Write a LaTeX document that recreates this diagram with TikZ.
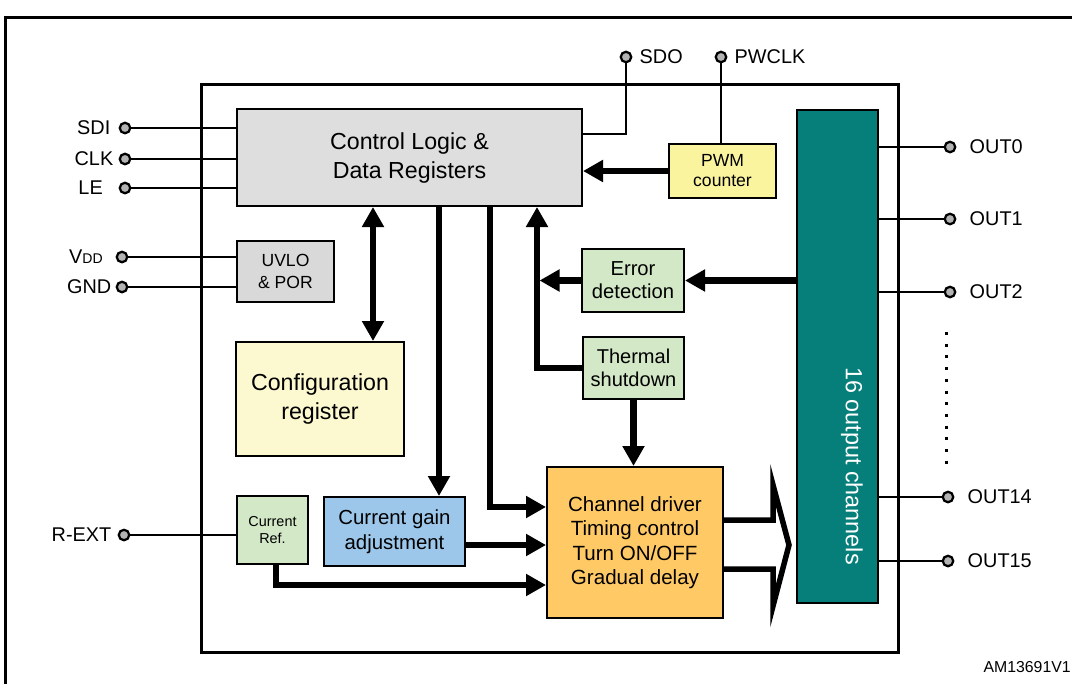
\documentclass[tikz,border=0pt]{standalone}
\usepackage{fontspec}
\setmainfont{Liberation Sans}
\usepackage{xcolor}
\usetikzlibrary{arrows.meta,positioning,calc}
\definecolor{logicgray}{HTML}{DEDEDE}
\definecolor{porgray}{HTML}{D9D9D9}
\definecolor{cfgyellow}{HTML}{FCF8D0}
\definecolor{pwmyellow}{HTML}{FBF49F}
\definecolor{ltgreen}{HTML}{D2E8C6}
\definecolor{gainblue}{HTML}{9DC7EA}
\definecolor{drvorange}{HTML}{FFC966}
\definecolor{chanteal}{HTML}{067F7B}
\definecolor{padgray}{HTML}{B3B3B3}
\tikzset{
  blk/.style={draw, line width=0.4mm, align=center, inner sep=0pt},
  pad/.style={circle, draw, line width=0.45mm, fill=padgray, inner sep=0pt, minimum size=2.1mm},
  padlbl/.style={inner sep=0pt, font=\fontsize{11.3}{13}\selectfont},
  wire/.style={line width=0.4mm},
  fat/.style={line width=1.3mm, -{Triangle[length=4mm,width=4.2mm]}},
  fatboth/.style={line width=1.3mm, {Triangle[length=4mm,width=4.2mm]}-{Triangle[length=4mm,width=4.2mm]}},
  busout/.style={line width=1.1mm, fill=white, line join=miter}
}

\begin{document}
\begin{tikzpicture}[x=0.2mm, y=-0.2mm]
    \useasboundingbox (0,0) rectangle (1072,683);
    % Frame and chip outline
    \draw[line width=0.6mm] (5,700) -- (5,17) -- (1090,17);
    \draw[line width=0.6mm] (201,84) rectangle (898,652);
    % Blocks
    \node[blk, fill=logicgray, minimum width=69mm, minimum height=19.4mm, font=\fontsize{13.2}{16.5}\selectfont] (logic) at (409.5,157.5) {Control Logic \&\\Data Registers};
    \node[blk, fill=porgray, minimum width=19.4mm, minimum height=12.2mm, font=\fontsize{10}{12.5}\selectfont] (uvlo) at (285.5,271.5) {UVLO\\\& POR};
    \node[blk, fill=cfgyellow, minimum width=33.6mm, minimum height=22.8mm, font=\fontsize{13.2}{16.5}\selectfont] (cfg) at (320,399) {Configuration\\register};
    \node[blk, fill=ltgreen, minimum width=14.2mm, minimum height=13.6mm, font=\fontsize{8.2}{10}\selectfont] (curref) at (272.5,530) {Current\\Ref.};
    \node[blk, fill=gainblue, minimum width=28.2mm, minimum height=13.8mm, font=\fontsize{11.6}{14.2}\selectfont] (gain) at (394.5,531.5) {Current gain\\adjustment};
    \node[blk, fill=drvorange, minimum width=35.2mm, minimum height=30.2mm, font=\fontsize{11.7}{13.9}\selectfont] (driver) at (635,542.5) {Channel driver\\Timing control\\Turn ON/OFF\\Gradual delay};
    \node[blk, fill=pwmyellow, minimum width=21.4mm, minimum height=10.8mm, font=\fontsize{10}{11.4}\selectfont] (pwm) at (722.5,171) {PWM\\counter};
    \node[blk, fill=ltgreen, minimum width=20.4mm, minimum height=12.6mm, font=\fontsize{11.5}{13}\selectfont] (error) at (633,280.5) {Error\\detection};
    \node[blk, fill=ltgreen, minimum width=20.2mm, minimum height=12.4mm, font=\fontsize{11.4}{13}\selectfont] (thermal) at (633.5,368) {Thermal\\shutdown};
    \node[blk, fill=chanteal, minimum width=16.2mm, minimum height=98.6mm] (chans) at (837.5,356.5) {};
    \node[rotate=-90, text=white, inner sep=0pt, font=\fontsize{13.3}{15}\selectfont] (chanlbl) at (852,466) {16 output channels};
    % Pins, left side
    \node[pad] (sdi) at (125,128) {};
    \node[pad] (clk) at (125,159) {};
    \node[pad] (le) at (125,188) {};
    \node[pad] (vdd) at (122,257) {};
    \node[pad] (gnd) at (122,287) {};
    \node[pad] (rext) at (124,535) {};
    \node[padlbl, left=1.6mm of sdi] (sdilbl) {SDI};
    \node[padlbl, left=1mm of clk] (clklbl) {CLK};
    \node[padlbl, left=3.1mm of le] (lelbl) {LE};
    \node[padlbl, left=2.5mm of vdd] (vddlbl) {V{\fontsize{8}{8}\selectfont DD}};
    \node[padlbl, left=0.8mm of gnd] (gndlbl) {GND};
    \node[padlbl, left=1.2mm of rext] (rextlbl) {R-EXT};
    % Pins, top
    \node[pad] (sdo) at (626,57) {};
    \node[pad] (pwclk) at (721,57) {};
    \node[padlbl, right=1.4mm of sdo] (sdolbl) {SDO};
    \node[padlbl, right=1.4mm of pwclk] (pwclklbl) {PWCLK};
    % Pins, right side
    \node[pad] (out0) at (950,147) {};
    \node[pad] (out1) at (950,219) {};
    \node[pad] (out2) at (950,292) {};
    \node[pad] (out14) at (948,497) {};
    \node[pad] (out15) at (948,561) {};
    \node[padlbl, right=2.6mm of out0] (out0lbl) {OUT0};
    \node[padlbl, right=2.6mm of out1] (out1lbl) {OUT1};
    \node[padlbl, right=2.6mm of out2] (out2lbl) {OUT2};
    \node[padlbl, right=2.6mm of out14] (out14lbl) {OUT14};
    \node[padlbl, right=2.6mm of out15] (out15lbl) {OUT15};
    \draw[line width=0.6mm, dash pattern=on 0.6mm off 1.74mm] (946,332) -- (946,466);
    \node[inner sep=0pt, anchor=east, font=\fontsize{9}{10}\selectfont] (docid) at (1071,667) {AM13691V1};
    % Thin wires
    \draw[wire] (sdi) -- (sdi -| logic.west);
    \draw[wire] (clk) -- (clk -| logic.west);
    \draw[wire] (le) -- (le -| logic.west);
    \draw[wire] (vdd) -- (vdd -| uvlo.west);
    \draw[wire] (gnd) -- (gnd -| uvlo.west);
    \draw[wire] (rext) -- (rext -| curref.west);
    \coordinate (sdoj) at (626,134);
    \draw[wire] (sdo) -- (sdoj) -- (sdoj -| logic.east);
    \draw[wire] (pwclk) -- (pwclk |- pwm.north);
    \draw[wire] (chans.east |- out0) -- (out0);
    \draw[wire] (chans.east |- out1) -- (out1);
    \draw[wire] (chans.east |- out2) -- (out2);
    \draw[wire] (chans.east |- out14) -- (out14);
    \draw[wire] (chans.east |- out15) -- (out15);
    % Thick data paths
    \coordinate (cfgx) at (373,300);
    \coordinate (gainx) at (439,300);
    \coordinate (drvj) at (490,507);
    \coordinate (trunk) at (537,368);
    \coordinate (gainy) at (465,545);
    \coordinate (refj) at (276,585);
    \draw[fatboth] (cfgx |- logic.south) -- (cfgx |- cfg.north);
    \draw[fat] (gainx |- logic.south) -- (gainx |- gain.north);
    \draw[fat] (drvj |- logic.south) -- (drvj) -- (drvj -| driver.west);
    \draw[fat] (thermal.west) -- (trunk) -- (trunk |- logic.south);
    \draw[fat, shorten >=0.5mm] (error.west) -- (error.west -| trunk);
    \draw[fat] (chans.west |- error.east) -- (error.east);
    \draw[fat] (pwm.west) -- (pwm.west -| logic.east);
    \draw[fat] (thermal.south) -- (thermal.south |- driver.north);
    \draw[fat] (gain.east |- gainy) -- (gainy -| driver.west);
    \draw[fat] (curref.south -| refj) -- (refj) -- (refj -| driver.west);
    % Bus arrow into the channels
    \coordinate (bt) at (723,520);
    \coordinate (bb) at (723,569);
    \draw[busout] (driver.east |- bt) -- (773,520) -- (773,485) -- (789,545) -- (773,606) -- (773,569) -- (driver.east |- bb);
\end{tikzpicture}
\end{document}
